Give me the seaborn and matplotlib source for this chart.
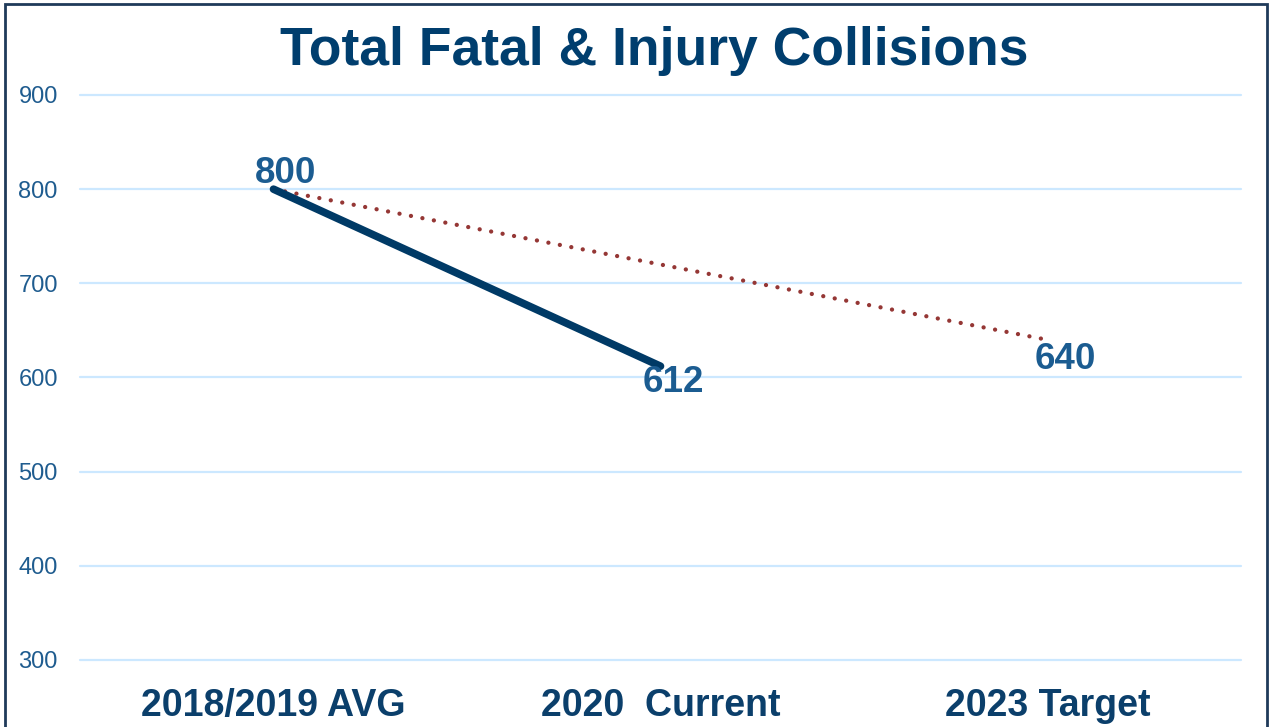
import matplotlib
matplotlib.use("Agg")
import matplotlib.pyplot as plt
import seaborn as sns
import pandas as pd
from matplotlib.patches import Rectangle

categories = ["2018/2019 AVG", "2020  Current", "2023 Target"]
current_values = [800, 612]
target_values = [800, 640]
current_cats = ["2018/2019 AVG", "2020  Current"]
target_cats = ["2018/2019 AVG", "2023 Target"]
y_ticks = [300, 400, 500, 600, 700, 800, 900]

sns.set_theme(style="white")
plt.rcParams['font.family'] = ['Liberation Sans', 'DejaVu Sans']

fig = plt.figure(figsize=(12.71, 7.27), dpi=100)
ax = fig.add_axes([80/1271, 1-660/727, (1241-80)/1271, (660-95)/727])

pos = {c: i for i, c in enumerate(categories)}
df_cur = pd.DataFrame({"x": [pos[c] for c in current_cats], "y": current_values})
df_tgt = pd.DataFrame({"x": [pos[c] for c in target_cats], "y": target_values})

sns.lineplot(data=df_tgt, x="x", y="y", ax=ax, color="#953735", lw=3.1,
             linestyle=(0, (0.01, 2.7)), dash_capstyle="round", zorder=3)
sns.lineplot(data=df_cur, x="x", y="y", ax=ax, color="#003A66", lw=5.5,
             solid_capstyle="round", zorder=4)

ax.set_xlim(-0.5, 2.5)
ax.set_ylim(300, 900)
ax.set_yticks(y_ticks)
ax.set_xticks(range(len(categories)))
ax.set_xticklabels(categories, fontsize=27, fontweight="bold", color="#0B3F6B")
ax.tick_params(axis="x", length=0, pad=20)
ax.tick_params(axis="y", length=0, pad=16, labelsize=17, labelcolor="#1F5C8F")
ax.grid(axis="y", color="#CCE8FF", lw=1.6)
for gl in ax.get_ygridlines():
    gl.set_clip_on(False)
ax.grid(axis="x", visible=False)
ax.set_axisbelow(True)
for s in ax.spines.values():
    s.set_visible(False)
ax.set_xlabel("")
ax.set_ylabel("")

lab_kw = dict(fontsize=26.5, fontweight="bold", color="#1B5C91",
              textcoords="offset points", ha="center", va="center", zorder=5)
ax.annotate(str(current_values[0]), (pos[current_cats[0]], current_values[0]), xytext=(9, 11), **lab_kw)
ax.annotate(str(current_values[1]), (pos[current_cats[1]], current_values[1]), xytext=(9, -12), **lab_kw)
ax.annotate(str(target_values[1]), (pos[target_cats[1]], target_values[1]), xytext=(13, -14), **lab_kw)

fig.text(654/1271, 1-65/727, "Total Fatal & Injury Collisions", fontsize=38.5, fontweight="bold",
         color="#003E6E", ha="center", va="baseline")

fig.patches.append(Rectangle((5/1271, -0.05), (1267-5)/1271, 1.05-4/727, transform=fig.transFigure,
                             fill=False, edgecolor="#1F3A5A", lw=2))

fig.savefig("out.png", dpi=100)
